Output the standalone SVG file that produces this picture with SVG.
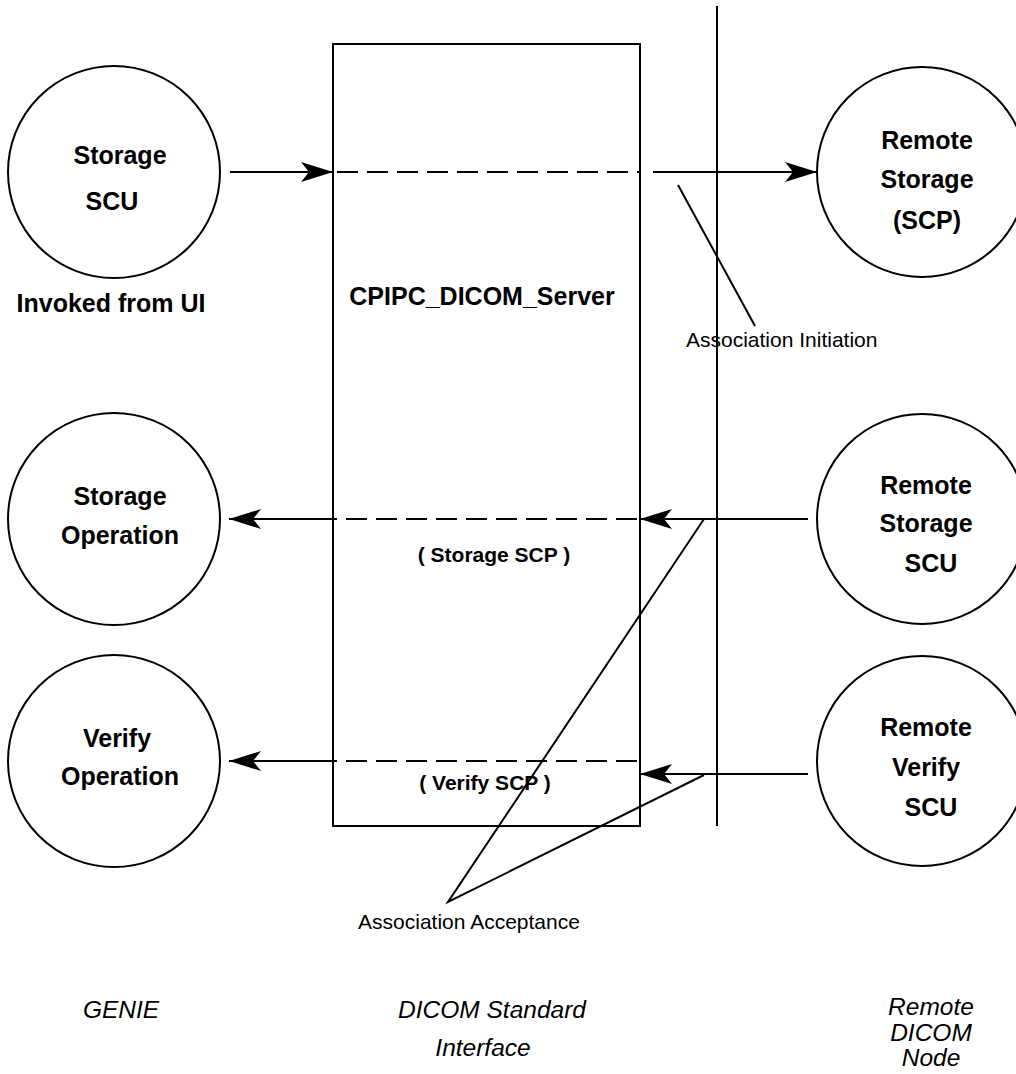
<svg xmlns="http://www.w3.org/2000/svg" width="1016" height="1074" viewBox="0 0 1016 1074">
<style>
.ln{stroke:#000;stroke-width:2;fill:none}
.ds{stroke:#000;stroke-width:2;fill:none;stroke-dasharray:21 9}
.c{stroke:#000;stroke-width:2;fill:#fff}
.b{font-family:"Liberation Sans",Arial,sans-serif;font-weight:bold;font-size:25px;text-anchor:middle;fill:#000}
.s{font-family:"Liberation Sans",Arial,sans-serif;font-weight:bold;font-size:21px;text-anchor:middle;fill:#000}
.r{font-family:"Liberation Sans",Arial,sans-serif;font-size:21px;fill:#000}
.i{font-family:"Liberation Sans",Arial,sans-serif;font-style:italic;font-size:24.5px;text-anchor:middle;fill:#000}
</style>
<defs>
<marker id="ah" markerUnits="userSpaceOnUse" markerWidth="40" markerHeight="26" viewBox="-34 -13 36 26" refX="0" refY="0" orient="auto">
<path d="M0,0 L-32,-10 L-24,0 L-32,10 Z" fill="#000"/>
</marker>
</defs>
<rect width="1016" height="1074" fill="#fff"/>
<g id="server">
<rect x="333" y="44" width="307" height="782" class="ln"/>
<text x="482" y="305" class="b">CPIPC_DICOM_Server</text>
</g>
<g id="boundary">
<line x1="717" y1="6" x2="717" y2="826" class="ln"/>
</g>
<g id="storage-scu">
<circle cx="114" cy="172" r="106" class="c"/>
<text x="120" y="164" class="b">Storage</text>
<text x="112" y="210" class="b">SCU</text>
<text x="111" y="312" class="b">Invoked from UI</text>
</g>
<g id="storage-operation">
<circle cx="114" cy="519" r="106" class="c"/>
<text x="120" y="505" class="b">Storage</text>
<text x="120" y="544" class="b">Operation</text>
</g>
<g id="verify-operation">
<circle cx="114" cy="761" r="106" class="c"/>
<text x="117" y="747" class="b">Verify</text>
<text x="120" y="785" class="b">Operation</text>
</g>
<g id="remote-storage-scp">
<circle cx="922" cy="172" r="105" class="c"/>
<text x="927" y="149" class="b">Remote</text>
<text x="927" y="188" class="b">Storage</text>
<text x="927" y="229" class="b">(SCP)</text>
</g>
<g id="remote-storage-scu">
<circle cx="922" cy="519" r="105" class="c"/>
<text x="926" y="494" class="b">Remote</text>
<text x="926" y="532" class="b">Storage</text>
<text x="931" y="572" class="b">SCU</text>
</g>
<g id="remote-verify-scu">
<circle cx="922" cy="761" r="105" class="c"/>
<text x="926" y="736" class="b">Remote</text>
<text x="926" y="776" class="b">Verify</text>
<text x="931" y="816" class="b">SCU</text>
</g>
<g id="connectors">
<line x1="230" y1="172" x2="333" y2="172" class="ln" marker-end="url(#ah)"/>
<line x1="337" y1="172" x2="640" y2="172" class="ds"/>
<line x1="653" y1="172" x2="817" y2="172" class="ln" marker-end="url(#ah)"/>
<line x1="808" y1="519" x2="640" y2="519" class="ln" marker-end="url(#ah)"/>
<line x1="637" y1="519" x2="333" y2="519" class="ds"/>
<line x1="333" y1="519" x2="229" y2="519" class="ln" marker-end="url(#ah)"/>
<line x1="637" y1="761" x2="333" y2="761" class="ds"/>
<line x1="333" y1="761" x2="229" y2="761" class="ln" marker-end="url(#ah)"/>
<line x1="808" y1="774" x2="640" y2="774" class="ln" marker-end="url(#ah)"/>
<line x1="678" y1="185" x2="755" y2="326" class="ln"/>
<polyline points="704,519 448,902 704,775" class="ln"/>
</g>
<g id="labels">
<text x="494" y="562" class="s">( Storage SCP )</text>
<text x="485" y="790" class="s">( Verify SCP )</text>
<text x="686" y="347" class="r">Association Initiation</text>
<text x="469" y="929" class="r" text-anchor="middle">Association Acceptance</text>
<text x="121" y="1018" class="i">GENIE</text>
<text x="492" y="1018" class="i">DICOM Standard</text>
<text x="483" y="1056" class="i">Interface</text>
<text x="931" y="1015" class="i">Remote</text>
<text x="931" y="1041" class="i">DICOM</text>
<text x="931" y="1066" class="i">Node</text>
</g>
</svg>
